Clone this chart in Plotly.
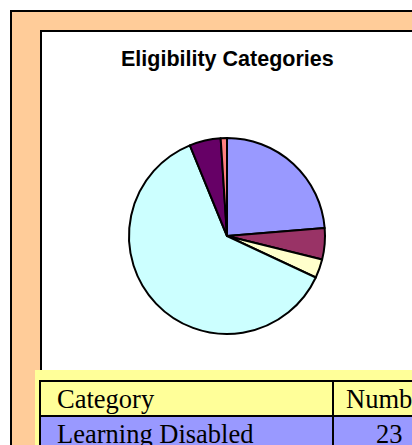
import plotly.graph_objects as go

# ---- data ----
categories = ["Learning Disabled", "Speech/Language Impaired", "Emotionally Disturbed",
              "Speech Impaired", "Other Health Impaired", "Autism"]
counts = [23, 5, 3, 60, 5, 1]
slice_colors = ["#9999FF", "#993366", "#FFFFCC", "#CCFFFF", "#660066", "#FF8080"]
header_labels = ["Category", "Number"]
title_text = "Eligibility Categories"

W, H = 412, 445


def px(x):
    return x / W


def py(y):
    return 1 - y / H


fig = go.Figure()

# pie centred at (227, 236) px, radius ~98 px
cx, cy, r = 227, 236, 98
fig.add_trace(go.Pie(
    labels=categories, values=counts, sort=False, direction="clockwise", rotation=0,
    marker=dict(colors=slice_colors, line=dict(color="black", width=2)),
    textinfo="none", showlegend=False, hoverinfo="label+value+percent",
    domain=dict(x=[px(cx - r), px(cx + r)], y=[py(cy + r), py(cy - r)]),
))

shapes = []
# outer orange frame
shapes.append(dict(type="rect", xref="paper", yref="paper", layer="below",
                   x0=px(11), x1=px(440), y0=py(11), y1=py(480),
                   fillcolor="#FFCC99", line=dict(color="black", width=2)))
# inner white chart area
shapes.append(dict(type="rect", xref="paper", yref="paper", layer="below",
                   x0=px(41), x1=px(440), y0=py(31), y1=py(480),
                   fillcolor="white", line=dict(color="black", width=2)))
# yellow table backdrop
shapes.append(dict(type="rect", xref="paper", yref="paper", layer="below",
                   x0=px(35), x1=px(440), y0=py(370), y1=py(480),
                   fillcolor="#FFFF99", line=dict(width=0)))

col_edges = [40, 333, 446]
row_top = 381
row_h = 35
table_font = dict(family="Liberation Serif, Times New Roman, serif", size=26.5, color="black")

annotations = []
rows = [(header_labels[0], header_labels[1], "#FFFF99")] + [
    (c, str(v), col) for c, v, col in zip(categories, counts, slice_colors)]
for i, (c, v, col) in enumerate(rows):
    y0 = row_top + i * row_h
    y1 = y0 + row_h
    for j in range(2):
        shapes.append(dict(type="rect", xref="paper", yref="paper", layer="below",
                           x0=px(col_edges[j]), x1=px(col_edges[j + 1]), y0=py(y1), y1=py(y0),
                           fillcolor=col, line=dict(color="black", width=2)))
    ymid = py((y0 + y1) / 2 + 0.5)
    annotations.append(dict(text=c, xref="paper", yref="paper", x=px(55), y=ymid,
                            xanchor="left", yanchor="middle", showarrow=False, font=table_font))
    annotations.append(dict(text=v, xref="paper", yref="paper",
                            x=px((col_edges[1] + col_edges[2]) / 2), y=ymid,
                            xanchor="center", yanchor="middle", showarrow=False, font=table_font))

annotations.append(dict(text="<b>" + title_text + "</b>", xref="paper", yref="paper",
                        x=px(227), y=py(59), xanchor="center", yanchor="middle", showarrow=False,
                        font=dict(family="Liberation Sans, Arial, sans-serif", size=21.5, color="black")))

fig.update_layout(
    width=W, height=H, margin=dict(l=0, r=0, t=0, b=0),
    paper_bgcolor="white", plot_bgcolor="white",
    shapes=shapes, annotations=annotations,
)

fig.write_html("out.html", config={"displayModeBar": False},
               post_script="document.body.style.margin='0px';document.body.style.overflow='hidden';")
